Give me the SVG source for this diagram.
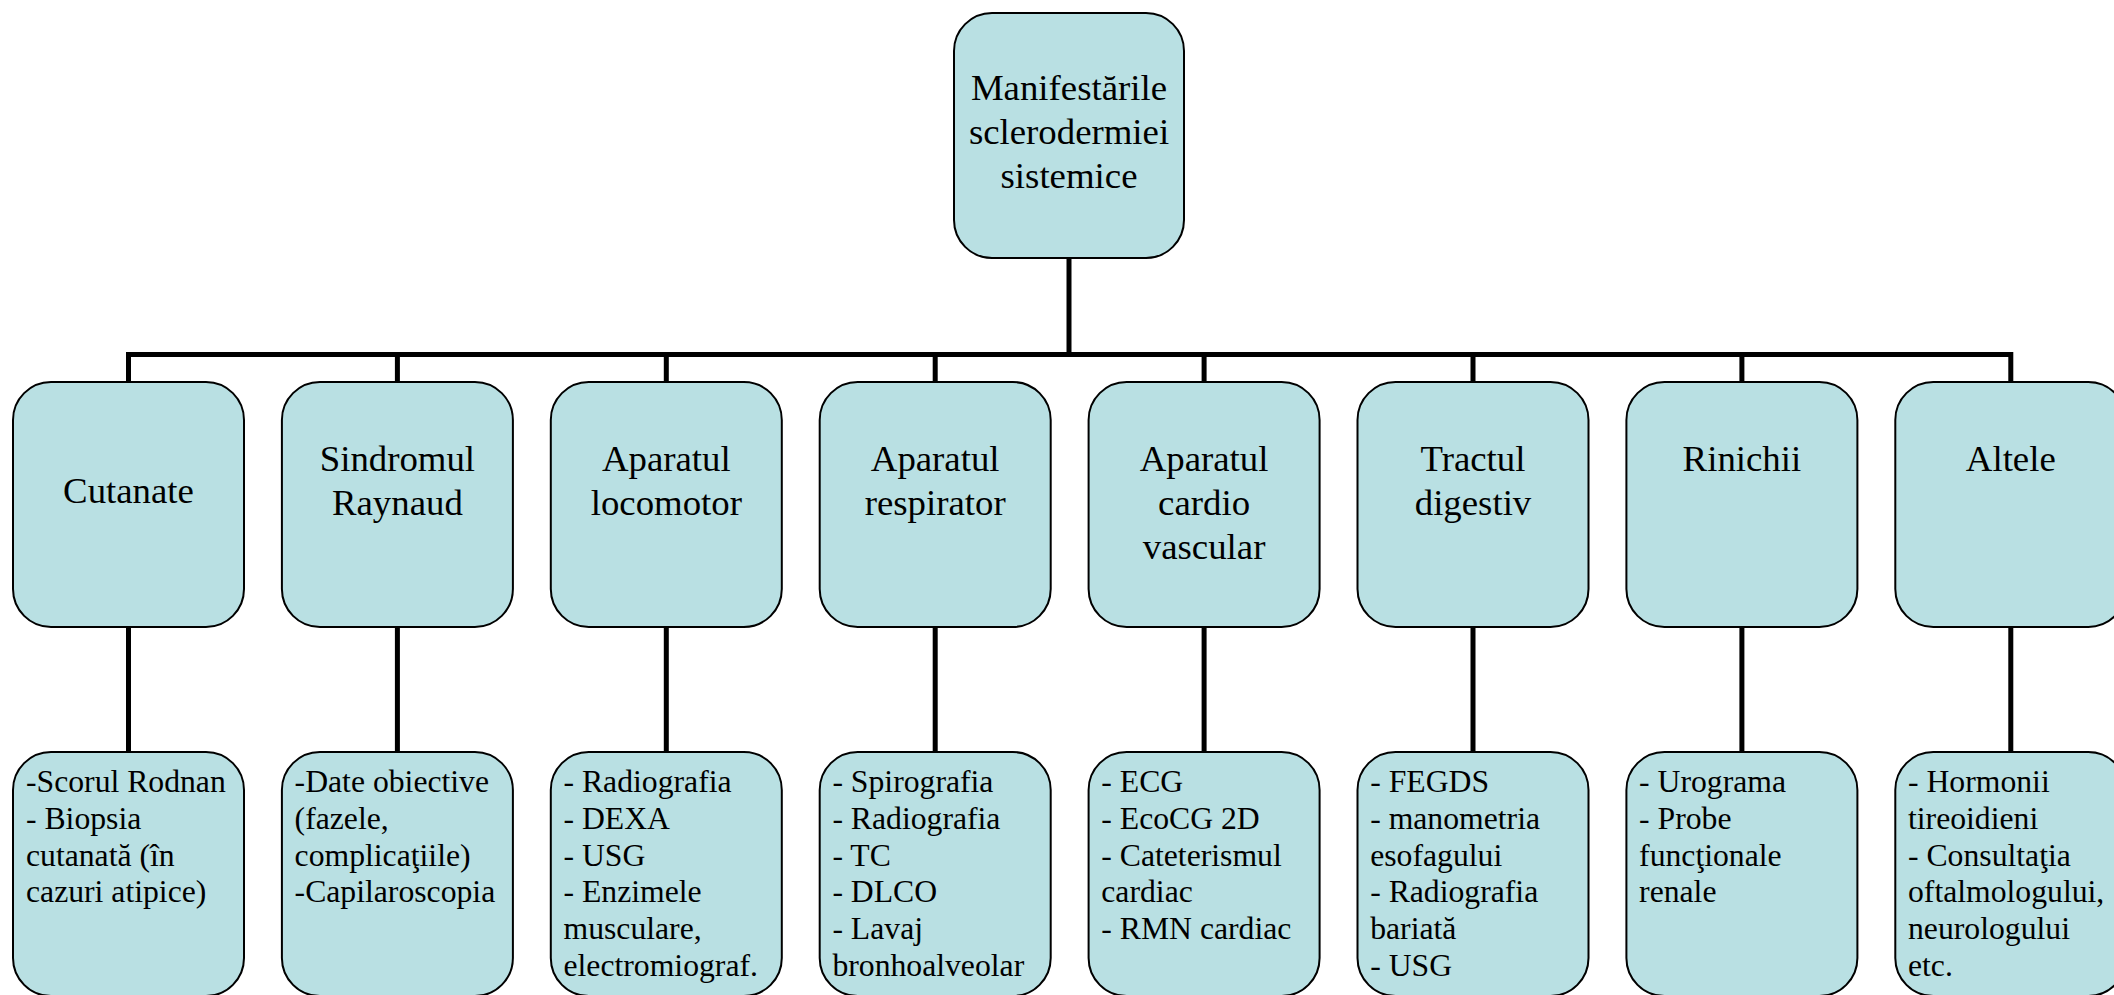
<svg xmlns="http://www.w3.org/2000/svg" width="2114" height="995" viewBox="0 0 2114 995">
<style>
.box{fill:#B9E0E3;stroke:#000;stroke-width:2}
.hd{font-family:"Liberation Serif","Times New Roman",serif;font-size:36.8px;fill:#000;text-anchor:middle}
.bd{font-family:"Liberation Serif","Times New Roman",serif;font-size:31.7px;fill:#000}
.con{stroke:#000;stroke-width:5;fill:none}
</style>
<rect width="2114" height="995" fill="#fff"/>
<g id="connectors">
<line class="con" x1="1069" y1="258" x2="1069" y2="354.5"/>
<line class="con" x1="126" y1="354.5" x2="2012.5" y2="354.5"/>
<path class="con" d="M128.5 352V382M397.4 352V382M666.3 352V382M935.2 352V382M1204.1 352V382M1473 352V382M1741.9 352V382M2010.8 352V382"/>
<path class="con" d="M128.5 627V752M397.4 627V752M666.3 627V752M935.2 627V752M1204.1 627V752M1473 627V752M1741.9 627V752M2010.8 627V752"/>
</g>
<g id="root">
<rect class="box" x="954" y="13" width="230" height="245" rx="38"/>
<text class="hd" x="1069" y="100">Manifestările</text>
<text class="hd" x="1069" y="144">sclerodermiei</text>
<text class="hd" x="1069" y="188">sistemice</text>
</g>
<g id="n1">
<rect class="box" x="13" y="382" width="231" height="245" rx="38"/>
<text class="hd" x="128.5" y="503">Cutanate</text>
</g>
<g id="n2">
<rect class="box" x="281.9" y="382" width="231" height="245" rx="38"/>
<text class="hd" x="397.4" y="471">Sindromul</text>
<text class="hd" x="397.4" y="515">Raynaud</text>
</g>
<g id="n3">
<rect class="box" x="550.8" y="382" width="231" height="245" rx="38"/>
<text class="hd" x="666.3" y="471">Aparatul</text>
<text class="hd" x="666.3" y="515">locomotor</text>
</g>
<g id="n4">
<rect class="box" x="819.7" y="382" width="231" height="245" rx="38"/>
<text class="hd" x="935.2" y="471">Aparatul</text>
<text class="hd" x="935.2" y="515">respirator</text>
</g>
<g id="n5">
<rect class="box" x="1088.6" y="382" width="231" height="245" rx="38"/>
<text class="hd" x="1204.1" y="471">Aparatul</text>
<text class="hd" x="1204.1" y="515">cardio</text>
<text class="hd" x="1204.1" y="559">vascular</text>
</g>
<g id="n6">
<rect class="box" x="1357.5" y="382" width="231" height="245" rx="38"/>
<text class="hd" x="1473" y="471">Tractul</text>
<text class="hd" x="1473" y="515">digestiv</text>
</g>
<g id="n7">
<rect class="box" x="1626.4" y="382" width="231" height="245" rx="38"/>
<text class="hd" x="1741.9" y="471">Rinichii</text>
</g>
<g id="n8">
<rect class="box" x="1895.3" y="382" width="231" height="245" rx="38"/>
<text class="hd" x="2010.8" y="471">Altele</text>
</g>
<g id="d1">
<rect class="box" x="13" y="752" width="231" height="244" rx="38"/>
<text class="bd" x="26" y="792">-Scorul Rodnan</text>
<text class="bd" x="26" y="828.8">- Biopsia</text>
<text class="bd" x="26" y="865.6">cutanată (în</text>
<text class="bd" x="26" y="902.4">cazuri atipice)</text>
</g>
<g id="d2">
<rect class="box" x="281.9" y="752" width="231" height="244" rx="38"/>
<text class="bd" x="294.6" y="792">-Date obiective</text>
<text class="bd" x="294.6" y="828.8">(fazele,</text>
<text class="bd" x="294.6" y="865.6">complicaţiile)</text>
<text class="bd" x="294.6" y="902.4">-Capilaroscopia</text>
</g>
<g id="d3">
<rect class="box" x="550.8" y="752" width="231" height="244" rx="38"/>
<text class="bd" x="563.5" y="792">- Radiografia</text>
<text class="bd" x="563.5" y="828.8">- DEXA</text>
<text class="bd" x="563.5" y="865.6">- USG</text>
<text class="bd" x="563.5" y="902.4">- Enzimele</text>
<text class="bd" x="563.5" y="939.2">musculare,</text>
<text class="bd" x="563.5" y="976">electromiograf.</text>
</g>
<g id="d4">
<rect class="box" x="819.7" y="752" width="231" height="244" rx="38"/>
<text class="bd" x="832.4" y="792">- Spirografia</text>
<text class="bd" x="832.4" y="828.8">- Radiografia</text>
<text class="bd" x="832.4" y="865.6">- TC</text>
<text class="bd" x="832.4" y="902.4">- DLCO</text>
<text class="bd" x="832.4" y="939.2">- Lavaj</text>
<text class="bd" x="832.4" y="976">bronhoalveolar</text>
</g>
<g id="d5">
<rect class="box" x="1088.6" y="752" width="231" height="244" rx="38"/>
<text class="bd" x="1101.3" y="792">- ECG</text>
<text class="bd" x="1101.3" y="828.8">- EcoCG 2D</text>
<text class="bd" x="1101.3" y="865.6">- Cateterismul</text>
<text class="bd" x="1101.3" y="902.4">cardiac</text>
<text class="bd" x="1101.3" y="939.2">- RMN cardiac</text>
</g>
<g id="d6">
<rect class="box" x="1357.5" y="752" width="231" height="244" rx="38"/>
<text class="bd" x="1370.2" y="792">- FEGDS</text>
<text class="bd" x="1370.2" y="828.8">- manometria</text>
<text class="bd" x="1370.2" y="865.6">esofagului</text>
<text class="bd" x="1370.2" y="902.4">- Radiografia</text>
<text class="bd" x="1370.2" y="939.2">bariată</text>
<text class="bd" x="1370.2" y="976">- USG</text>
</g>
<g id="d7">
<rect class="box" x="1626.4" y="752" width="231" height="244" rx="38"/>
<text class="bd" x="1639.1" y="792">- Urograma</text>
<text class="bd" x="1639.1" y="828.8">- Probe</text>
<text class="bd" x="1639.1" y="865.6">funcţionale</text>
<text class="bd" x="1639.1" y="902.4">renale</text>
</g>
<g id="d8">
<rect class="box" x="1895.3" y="752" width="231" height="244" rx="38"/>
<text class="bd" x="1908" y="792">- Hormonii</text>
<text class="bd" x="1908" y="828.8">tireoidieni</text>
<text class="bd" x="1908" y="865.6">- Consultaţia</text>
<text class="bd" x="1908" y="902.4">oftalmologului,</text>
<text class="bd" x="1908" y="939.2">neurologului</text>
<text class="bd" x="1908" y="976">etc.</text>
</g>
</svg>
